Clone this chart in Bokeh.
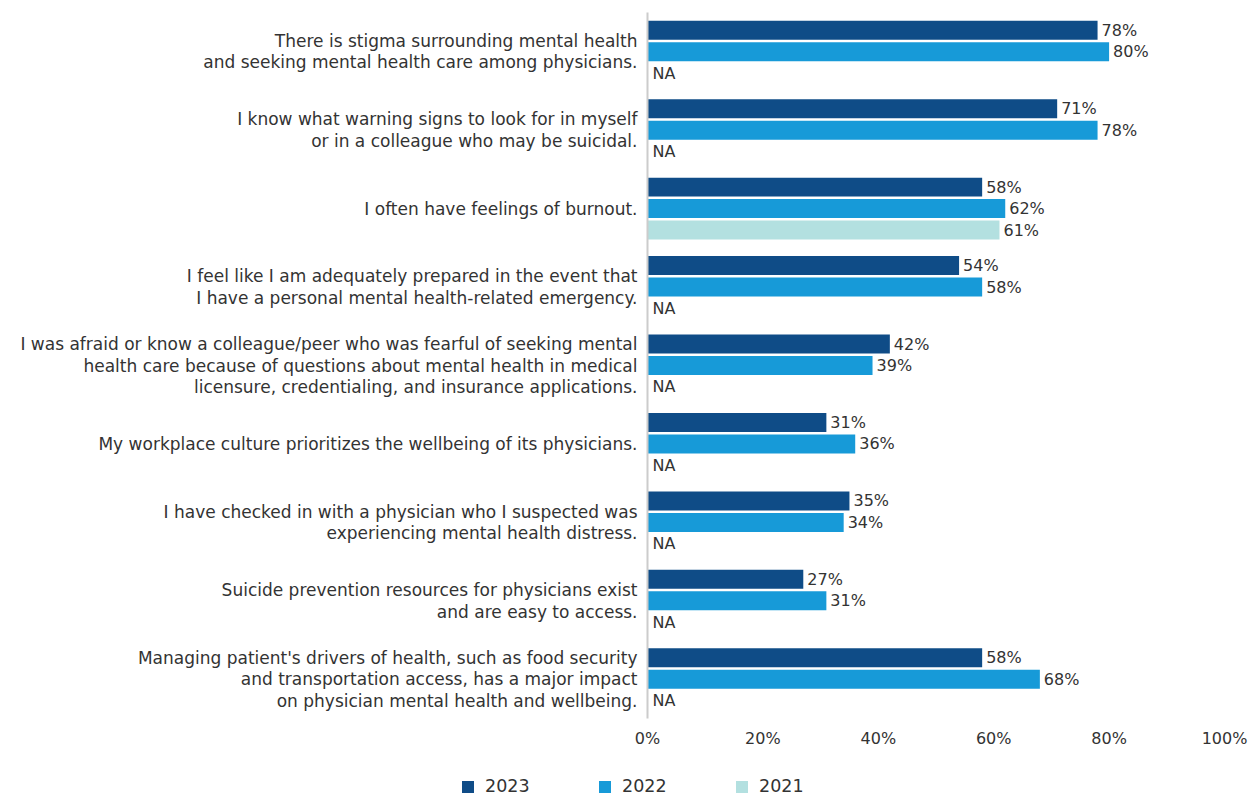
from bokeh.plotting import figure
from bokeh.models import Range1d, FixedTicker, Legend, LegendItem, ColumnDataSource
from bokeh.embed import file_html
from bokeh.resources import INLINE
from bokeh.core.properties import value

categories = [
    "There is stigma surrounding mental health\nand seeking mental health care among physicians.",
    "I know what warning signs to look for in myself\nor in a colleague who may be suicidal.",
    "I often have feelings of burnout.",
    "I feel like I am adequately prepared in the event that\nI have a personal mental health-related emergency.",
    "I was afraid or know a colleague/peer who was fearful of seeking mental\nhealth care because of questions about mental health in medical\nlicensure, credentialing, and insurance applications.",
    "My workplace culture prioritizes the wellbeing of its physicians.",
    "I have checked in with a physician who I suspected was\nexperiencing mental health distress.",
    "Suicide prevention resources for physicians exist\nand are easy to access.",
    "Managing patient's drivers of health, such as food security\nand transportation access, has a major impact\non physician mental health and wellbeing.",
]
years = ["2023", "2022", "2021"]
v2023 = [78, 71, 58, 54, 42, 31, 35, 27, 58]
v2022 = [80, 78, 62, 58, 39, 36, 34, 31, 68]
v2021 = [None, None, 61, None, None, None, None, None, None]
x_ticks = [0, 20, 40, 60, 80, 100]
colors = ["#0f4c87", "#179ad8", "#b3e0e0"]

FONT = "DejaVu Sans"
TEXT = "#333333"
ROW = 0.274
BAR_H = 0.242

W, H = 1250, 797
ZERO_PX, FULL_PX = 647, 1224          # screen x of 0% and 100%
TOP_PX, BOT_PX = 12, 718              # screen y of the plotting band
PX_PER_X = (FULL_PX - ZERO_PX) / 100.0
N = len(categories)
PX_PER_Y = (BOT_PX - TOP_PX) / N
Y_TOP = -0.5 - TOP_PX / PX_PER_Y
Y_BOT = -0.5 + (H - TOP_PX) / PX_PER_Y

p = figure(width=W, height=H, output_backend="svg", toolbar_location=None, title=None,
           x_range=Range1d(-ZERO_PX / PX_PER_X, (W - ZERO_PX) / PX_PER_X),
           y_range=Range1d(Y_BOT, Y_TOP),
           min_border_left=0, min_border_right=0, min_border_top=0, min_border_bottom=0)
p.outline_line_color = None
p.xgrid.visible = False
p.ygrid.visible = False
p.background_fill_color = "white"

series = [v2023, v2022, v2021]
renderers = []
na_x, na_y = [], []
for k, vals in enumerate(series):
    ys, xs, labs = [], [], []
    for i, v in enumerate(vals):
        y = i + (k - 1) * ROW
        if v is None:
            na_x.append(0)
            na_y.append(y)
        else:
            ys.append(y)
            xs.append(v)
            labs.append(f"{v}%")
    src = ColumnDataSource(dict(y=ys, right=xs, lab=labs))
    r = p.hbar(y="y", right="right", left=0, height=BAR_H, source=src,
               fill_color=colors[k], line_color=None)
    renderers.append(r)
    p.text(x="right", y="y", text="lab", source=src, x_offset=4,
           text_baseline="middle", text_align="left",
           text_font=value(FONT), text_font_size="16px", text_color=TEXT)

na_src = ColumnDataSource(dict(x=na_x, y=na_y, t=["NA"] * len(na_x)))
p.text(x="x", y="y", text="t", source=na_src, x_offset=5,
       text_baseline="middle", text_align="left",
       text_font=value(FONT), text_font_size="16px", text_color=TEXT)

# category labels, one text line each, centred on the group
cx, cy, ct = [], [], []
for i, cat in enumerate(categories):
    lines = cat.split("\n")
    n = len(lines)
    for j, line in enumerate(lines):
        cx.append(0)
        cy.append(i + (j - (n - 1) / 2) * ROW)
        ct.append(line)
cat_src = ColumnDataSource(dict(x=cx, y=cy, t=ct))
p.text(x="x", y="y", text="t", source=cat_src, x_offset=-10,
       text_baseline="middle", text_align="right",
       text_font=value(FONT), text_font_size="17px", text_color=TEXT)

# y axis: only its line, fixed at 0%, spanning the category band
ya = p.yaxis[0]
ya.fixed_location = 0
ya.bounds = (-0.5, N - 0.5)
ya.ticker = FixedTicker(ticks=[], minor_ticks=[])
ya.axis_line_color = "#cccccc"
ya.axis_line_width = 2
ya.major_tick_line_color = None
ya.minor_tick_line_color = None
ya.major_label_text_font_size = "0px"

# x axis: labels only, fixed at the bottom of the category band
xa = p.xaxis[0]
xa.fixed_location = N - 0.5
xa.ticker = FixedTicker(ticks=x_ticks, minor_ticks=[])
xa.major_label_overrides = {t: f"{t}%" for t in x_ticks}
xa.axis_line_color = None
xa.major_tick_line_color = None
xa.minor_tick_line_color = None
xa.major_tick_out = 0
xa.major_tick_in = 0
xa.major_label_standoff = 10
xa.major_label_text_font = FONT
xa.major_label_text_font_size = "16px"
xa.major_label_text_color = TEXT

legend = Legend(items=[LegendItem(label=years[k], renderers=[renderers[k]]) for k in range(3)],
                location=(460, 1), orientation="horizontal",
                glyph_width=15, glyph_height=15, label_standoff=10, label_width=112,
                spacing=0, padding=0, margin=0, border_line_color=None,
                background_fill_alpha=0, label_text_font=FONT,
                label_text_font_size="17.5px", label_text_color=TEXT)
p.add_layout(legend, "center")

open("out.html", "w").write(file_html(p, INLINE))
